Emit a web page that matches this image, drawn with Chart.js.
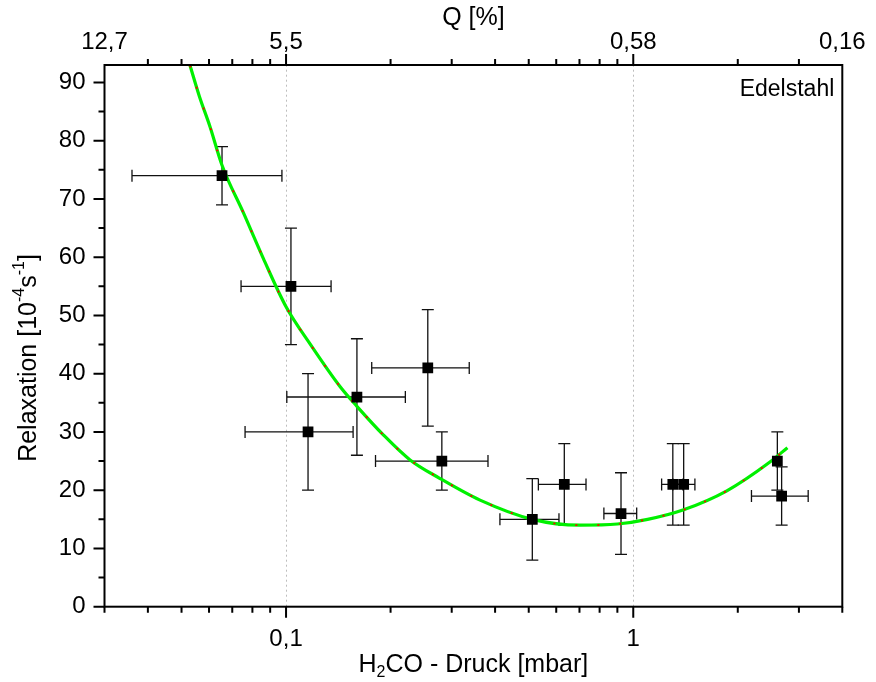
<!DOCTYPE html>
<html>
<head>
<meta charset="utf-8">
<script src="https://cdn.jsdelivr.net/npm/chart.js@4"></script>
<style>
html,body{margin:0;padding:0;background:#fff;}
#wrap{width:876px;height:682px;}
</style>
</head>
<body>
<div id="wrap"><canvas id="c" width="876" height="682"></canvas></div>
<script>
// ---- data ----
const pressure     = [0.0654, 0.1033, 0.1157, 0.160, 0.256, 0.281, 0.512, 0.633, 0.922, 1.30, 1.397, 2.60, 2.675];
const relaxation   = [74, 55, 30, 36, 41, 25, 15, 21, 16, 21, 21, 25, 19];
const pressureLow  = [0.036, 0.0742, 0.0762, 0.1005, 0.1765, 0.181, 0.413, 0.533, 0.823, 1.207, 1.30, 2.60, 2.19];
const pressureHigh = [0.0973, 0.1348, 0.156, 0.2206, 0.337, 0.3816, 0.611, 0.731, 1.023, 1.39, 1.505, 2.60, 3.19];
const relaxLow     = [69, 45, 20, 26, 31, 20, 8, 14, 9, 14, 14, 20, 14];
const relaxHigh    = [79, 65, 40, 46, 51, 30, 22, 28, 23, 28, 28, 30, 24];

const fitPressure  = [0.0529, 0.0563, 0.0604, 0.0654, 0.0754, 0.086, 0.1, 0.117, 0.143, 0.16, 0.1906, 0.2276, 0.277, 0.362, 0.512, 0.702, 0.90, 1.10, 1.39, 1.86, 2.47, 2.78];
const fitRelax     = [92.9, 87.6, 82.4, 75.8, 67.6, 59.8, 51.5, 45.2, 37.8, 34.4, 29.5, 25.2, 22.05, 18.3, 15.0, 14.0, 14.2, 15.0, 16.6, 19.9, 24.8, 27.3];

const bottomMajorTicks = [0.1, 1];
const bottomMinorTicks = [0.03, 0.04, 0.05, 0.06, 0.07, 0.08, 0.09, 0.2, 0.3, 0.4, 0.5, 0.6, 0.7, 0.8, 0.9, 2, 3, 4];
const bottomTickLabels = {0.1: '0,1', 1: '1'};
const topTickValues = [0.03, 0.1, 1, 4];
const topTickLabels = ['12,7', '5,5', '0,58', '0,16'];
const topMinorTicks = [0.04, 0.05, 0.06, 0.07, 0.08, 0.09, 0.2, 0.3, 0.4, 0.5, 0.6, 0.7, 0.8, 0.9, 2, 3];
const topMajorTicks = [0.1, 1];
const yMajorTicks = [0, 10, 20, 30, 40, 50, 60, 70, 80, 90];
const yMinorTicks = [5, 15, 25, 35, 45, 55, 65, 75, 85];
const gridValues = [0.1, 1];
const materialLabel = 'Edelstahl';
const topTitle = 'Q [%]';
// rich titles: [text, 0 normal | 1 superscript | -1 subscript]
const xTitleParts = [['H', 0], ['2', -1], ['CO - Druck [mbar]', 0]];
const yTitleParts = [['Relaxation [10', 0], ['-4', 1], ['s', 0], ['-1', 1], [']', 0]];

const FONT = "'Liberation Sans', Arial, Helvetica, sans-serif";
const TITLE_SIZE = 25;

function drawRich(c, parts, cx, cy, rot) {
  const big = TITLE_SIZE + 'px ' + FONT, small = Math.round(TITLE_SIZE * 0.62) + 'px ' + FONT;
  let w = 0;
  parts.forEach(p => { c.font = p[1] ? small : big; w += c.measureText(p[0]).width; });
  c.save();
  c.translate(cx, cy); c.rotate(rot);
  c.fillStyle = '#000'; c.textAlign = 'left'; c.textBaseline = 'middle';
  let x = -w / 2;
  parts.forEach(p => {
    c.font = p[1] ? small : big;
    const dy = p[1] === 1 ? -TITLE_SIZE * 0.38 : (p[1] === -1 ? TITLE_SIZE * 0.32 : 0);
    c.fillText(p[0], x, dy);
    x += c.measureText(p[0]).width;
  });
  c.restore();
}

const whiteBg = {
  id: 'whiteBg',
  beforeDraw(chart) {
    const c = chart.ctx; c.save(); c.fillStyle = '#fff';
    c.fillRect(0, 0, chart.width, chart.height); c.restore();
  }
};

const decorations = {
  id: 'decorations',
  beforeDatasetsDraw(chart) {
    const c = chart.ctx, xs = chart.scales.x, ys = chart.scales.y, a = chart.chartArea;
    c.save();
    c.strokeStyle = '#bdbdbd'; c.lineWidth = 1; c.setLineDash([2, 3]);
    gridValues.forEach(v => {
      const X = Math.round(xs.getPixelForValue(v)) + 0.5;
      c.beginPath(); c.moveTo(X, a.bottom); c.lineTo(X, a.top); c.stroke();
    });
    c.setLineDash([]);
    c.strokeStyle = '#111'; c.lineWidth = 1.3;
    const cap = 6;
    for (let i = 0; i < pressure.length; i++) {
      const px = xs.getPixelForValue(pressure[i]);
      const py = ys.getPixelForValue(relaxation[i]);
      const x1 = xs.getPixelForValue(pressureLow[i]);
      const x2 = xs.getPixelForValue(pressureHigh[i]);
      const y1 = ys.getPixelForValue(relaxLow[i]);
      const y2 = ys.getPixelForValue(relaxHigh[i]);
      c.beginPath();
      if (Math.abs(x2 - x1) > 1) {
        c.moveTo(x1, py); c.lineTo(x2, py);
        c.moveTo(x1, py - cap); c.lineTo(x1, py + cap);
        c.moveTo(x2, py - cap); c.lineTo(x2, py + cap);
      }
      c.moveTo(px, y1); c.lineTo(px, y2);
      c.moveTo(px - cap, y1); c.lineTo(px + cap, y1);
      c.moveTo(px - cap, y2); c.lineTo(px + cap, y2);
      c.stroke();
    }
    c.restore();
  },
  afterDraw(chart) {
    const c = chart.ctx, xs = chart.scales.x, ys = chart.scales.y, a = chart.chartArea;
    c.save();
    c.strokeStyle = '#000'; c.lineWidth = 2;
    c.strokeRect(a.left, a.top, a.right - a.left, a.bottom - a.top);
    c.beginPath();
    bottomMinorTicks.forEach(v => { const X = xs.getPixelForValue(v); c.moveTo(X, a.bottom); c.lineTo(X, a.bottom + 6); });
    bottomMajorTicks.forEach(v => { const X = xs.getPixelForValue(v); c.moveTo(X, a.bottom); c.lineTo(X, a.bottom + 11); });
    topMinorTicks.forEach(v => { const X = xs.getPixelForValue(v); c.moveTo(X, a.top); c.lineTo(X, a.top - 6); });
    topMajorTicks.forEach(v => { const X = xs.getPixelForValue(v); c.moveTo(X, a.top); c.lineTo(X, a.top - 11); });
    yMajorTicks.forEach(v => { const Y = ys.getPixelForValue(v); c.moveTo(a.left, Y); c.lineTo(a.left - 11, Y); });
    yMinorTicks.forEach(v => { const Y = ys.getPixelForValue(v); c.moveTo(a.left, Y); c.lineTo(a.left - 6, Y); });
    c.stroke();
    c.fillStyle = '#000'; c.font = '23px ' + FONT;
    c.textAlign = 'right'; c.textBaseline = 'middle';
    c.fillText(materialLabel, a.right - 8, a.top + 25);
    // axis titles
    c.font = TITLE_SIZE + 'px ' + FONT; c.textAlign = 'center';
    c.fillText(topTitle, (a.left + a.right) / 2, 18);
    drawRich(c, xTitleParts, (a.left + a.right) / 2, 665, 0);
    drawRich(c, yTitleParts, 29, 358, -Math.PI / 2);
    c.restore();
  }
};

new Chart(document.getElementById('c'), {
  data: {
    datasets: [
      {
        type: 'scatter', label: 'Messwerte', order: 0,
        data: pressure.map((x, i) => ({x: x, y: relaxation[i]})),
        pointStyle: 'rect', pointRadius: 7.6, backgroundColor: '#000', borderWidth: 0
      },
      {
        type: 'line', label: 'Fit rot', order: 1,
        data: fitPressure.map((x, i) => ({x: x, y: fitRelax[i]})),
        borderColor: '#ff0000', borderWidth: 1.8, borderDash: [2, 20], pointRadius: 0,
        cubicInterpolationMode: 'monotone', fill: false
      },
      {
        type: 'line', label: 'Fit', order: 2,
        data: fitPressure.map((x, i) => ({x: x, y: fitRelax[i]})),
        borderColor: '#00f000', borderWidth: 3.2, pointRadius: 0,
        cubicInterpolationMode: 'monotone', fill: false
      }
    ]
  },
  options: {
    responsive: false, animation: false, events: [],
    layout: {padding: {left: 0, right: 33.7, top: 0, bottom: 0}},
    plugins: {legend: {display: false}, tooltip: {enabled: false}},
    scales: {
      x: {
        type: 'logarithmic', position: 'bottom', min: 0.03, max: 4,
        afterBuildTicks: s => { s.ticks = bottomMinorTicks.concat(bottomMajorTicks).sort((p, q) => p - q).map(v => ({value: v})); },
        afterFit: s => { s.height = 75.3; s.paddingLeft = 0; s.paddingRight = 0; },
        grid: {display: false, drawTicks: false},
        border: {display: false},
        ticks: {
          autoSkip: false, maxRotation: 0, minRotation: 0, padding: 18, color: '#000',
          font: {family: FONT, size: 24},
          callback: v => bottomTickLabels[v] || ''
        },
        title: {display: false, text: 'H₂CO - Druck [mbar]'}
      },
      x2: {
        type: 'logarithmic', position: 'top', min: 0.03, max: 4,
        afterBuildTicks: s => { s.ticks = topTickValues.map(v => ({value: v})); },
        afterFit: s => { s.height = 65; s.paddingLeft = 0; s.paddingRight = 0; },
        grid: {display: false, drawTicks: false},
        border: {display: false},
        ticks: {
          autoSkip: false, maxRotation: 0, minRotation: 0, padding: 8, color: '#000',
          font: {family: FONT, size: 24},
          callback: (v, i) => topTickLabels[i]
        },
        title: {display: false, text: 'Q [%]'}
      },
      y: {
        type: 'linear', position: 'left', min: 0, max: 93,
        afterBuildTicks: s => { s.ticks = yMajorTicks.map(v => ({value: v})); },
        afterFit: s => { s.width = 104.5; },
        grid: {display: false, drawTicks: false},
        border: {display: false},
        ticks: {padding: 19, color: '#000', font: {family: FONT, size: 24}},
        title: {display: false, text: 'Relaxation [10⁻⁴s⁻¹]'}
      }
    }
  },
  plugins: [whiteBg, decorations]
});
</script>
</body>
</html>
